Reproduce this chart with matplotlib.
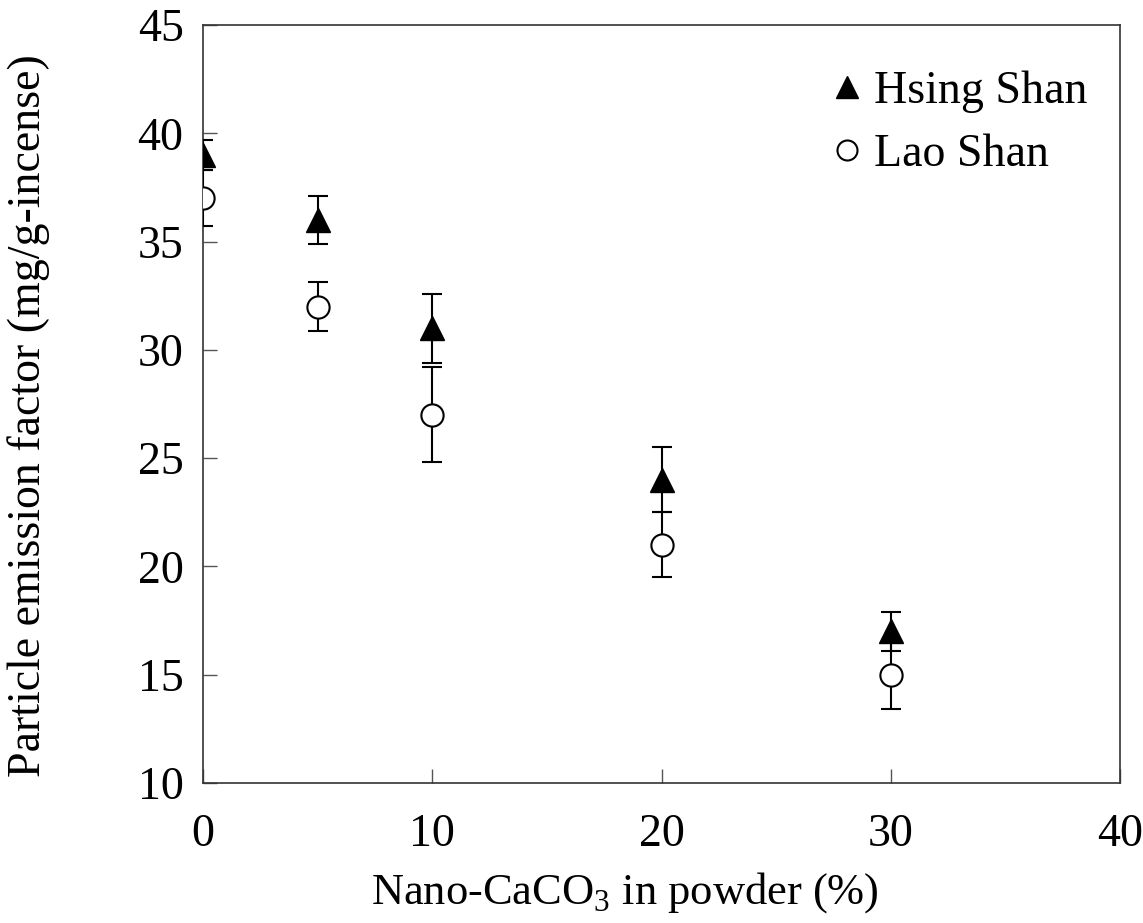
import matplotlib
matplotlib.use("Agg")
import matplotlib.pyplot as plt

# data
nano_pct = [0, 5, 10, 20, 30]
hsing_shan = [39.0, 36.0, 31.0, 24.0, 17.0]
hsing_err = [0.7, 1.1, 1.6, 1.5, 0.9]
lao_shan = [37.0, 32.0, 27.0, 21.0, 15.0]
lao_err = [1.3, 1.15, 2.2, 1.5, 1.6]

plt.rcParams['font.family'] = ['Liberation Serif', 'DejaVu Serif']
plt.rcParams['mathtext.fontset'] = 'custom'
plt.rcParams['mathtext.rm'] = 'Liberation Serif'

fig = plt.figure(figsize=(11.43, 9.23), dpi=100)
ax = fig.add_axes([203 / 1143, 1 - 783 / 923, (1120 - 203) / 1143, (783 - 25) / 923])

ax.errorbar(nano_pct, hsing_shan, yerr=hsing_err, fmt='^', color='black',
            markerfacecolor='black', markersize=17, ecolor='black',
            elinewidth=1.5, capsize=7, capthick=1.5, label='Hsing Shan', zorder=3)
ax.errorbar(nano_pct, lao_shan, yerr=lao_err, fmt='o', color='black',
            markerfacecolor='white', markeredgewidth=1.5, markersize=16,
            ecolor='black', elinewidth=1.5, capsize=7, capthick=1.5,
            label='Lao Shan', zorder=3)

ax.set_xlim(0, 40)
ax.set_ylim(10, 45)
ax.set_xticks([0, 10, 20, 30, 40])
ax.set_yticks([10, 15, 20, 25, 30, 35, 40, 45])
ax.tick_params(direction='in', length=10, width=1, labelsize=33,
               top=False, right=False, color='#555555')
ax.tick_params(axis='x', pad=22)
ax.tick_params(axis='y', pad=14)
for s in ax.spines.values():
    s.set_linewidth(1.2)
    s.set_color('#333333')

ax.set_xlabel('Nano-CaCO$_3$ in powder (%)', fontsize=32)
ax.xaxis.set_label_coords(0.46, -0.115)
ax.set_ylabel('Particle emission factor (mg/g-incense)', fontsize=33)
ax.yaxis.set_label_coords(-0.167, 0.485)

handles, labels = ax.get_legend_handles_labels()
handles = [h[0] for h in handles]
leg = ax.legend(handles, labels, loc='upper right', bbox_to_anchor=(1.015, 1.0),
                frameon=False, fontsize=33, handlelength=0.6, handletextpad=0.3,
                markerscale=0.9, borderaxespad=0.6, labelspacing=0.45)

fig.savefig('out.png', dpi=100)
